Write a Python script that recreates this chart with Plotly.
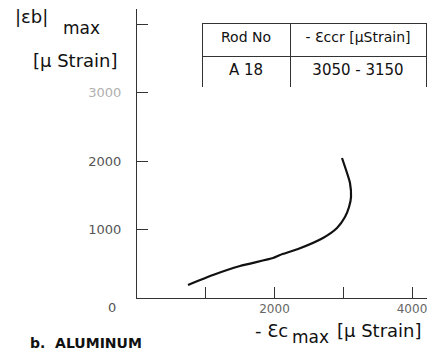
import plotly.graph_objects as go

# Maximum compressive strain vs. maximum bending strain, aluminum rod A18
eps_c_max = [742, 1105, 1498, 1978, 2080, 2342, 2705, 2909, 3025, 3084, 3113, 3098, 3055, 2982]
eps_b_max = [190, 336, 467, 584, 628, 715, 876, 1022, 1182, 1328, 1474, 1679, 1825, 2044]

x_tickvals = [1000, 2000, 3000, 4000]
x_ticktext = ["", "2000", "", "4000"]
y_tickvals = [1000, 2000, 3000, 4000]
y_ticktext = ["1000", "2000", "<span style='color:#b0b0b0'>3000</span>", ""]

table_header = ["Rod No", "- Ɛccr [μStrain]"]
table_rows = [["A 18"], ["3050 - 3150"]]

W, H = 428, 353
ML, MR, MT, MB = 137, 1, 9, 55
PW, PH = W - ML - MR, H - MT - MB
FONT = "DejaVu Sans"


def px(x):
    return (x - ML) / PW


def py(y):
    return (H - MB - y) / PH


fig = go.Figure()

fig.add_trace(go.Scatter(
    x=eps_c_max, y=eps_b_max, mode="lines",
    line=dict(color="#111", width=2.2, shape="spline", smoothing=0.6),
    showlegend=False, hoverinfo="skip",
))

fig.add_trace(go.Table(
    domain=dict(x=[px(202), px(426)], y=[py(87), py(23)]),
    columnwidth=[88, 136],
    header=dict(values=table_header, align="center", height=33,
                fill_color="white", line=dict(color="#333", width=1),
                font=dict(family=FONT, size=14, color="#111")),
    cells=dict(values=table_rows, align="center", height=31,
               fill_color="white", line=dict(color="#333", width=1),
               font=dict(family=FONT, size=15, color="#111")),
))

ann = [
    dict(text="|εb|", x=px(31), y=py(16), size=18),
    dict(text="max", x=px(81), y=py(28), size=17),
    dict(text="[μ Strain]", x=px(75), y=py(60), size=18),
    dict(text="- Ɛc", x=px(271), y=py(330), size=18),
    dict(text="max", x=px(310), y=py(337), size=17),
    dict(text="[μ Strain]", x=px(379), y=py(330), size=18),
    dict(text="<b>b.  ALUMINUM</b>", x=px(86), y=py(343), size=14),
    dict(text="0", x=px(112), y=py(307), size=13, color="#555"),
]
for a in ann:
    fig.add_annotation(
        text=a["text"], x=a["x"], y=a["y"], xref="paper", yref="paper",
        xanchor="center", yanchor="middle", showarrow=False,
        font=dict(family=FONT, size=a["size"], color=a.get("color", "#111")),
    )

fig.update_layout(
    width=W, height=H,
    margin=dict(l=ML, r=MR, t=MT, b=MB),
    paper_bgcolor="white", plot_bgcolor="white",
    font=dict(family=FONT),
)
fig.update_xaxes(
    range=[0, PW / 0.06875], showgrid=False, zeroline=False,
    showline=True, linecolor="#333", linewidth=1,
    ticks="inside", ticklen=11, tickcolor="#333",
    tickvals=x_tickvals, ticktext=x_ticktext,
    ticklabeloverflow="allow",
    tickfont=dict(family=FONT, size=12, color="#666"),
)
fig.update_yaxes(
    range=[0, PH / 0.0685], showgrid=False, zeroline=False,
    showline=True, linecolor="#333", linewidth=1,
    ticks="inside", ticklen=11, tickcolor="#333",
    tickvals=y_tickvals, ticktext=y_ticktext,
    ticklabelstandoff=12,
    tickfont=dict(family=FONT, size=13, color="#555"),
)

fig.write_html("out.html")
